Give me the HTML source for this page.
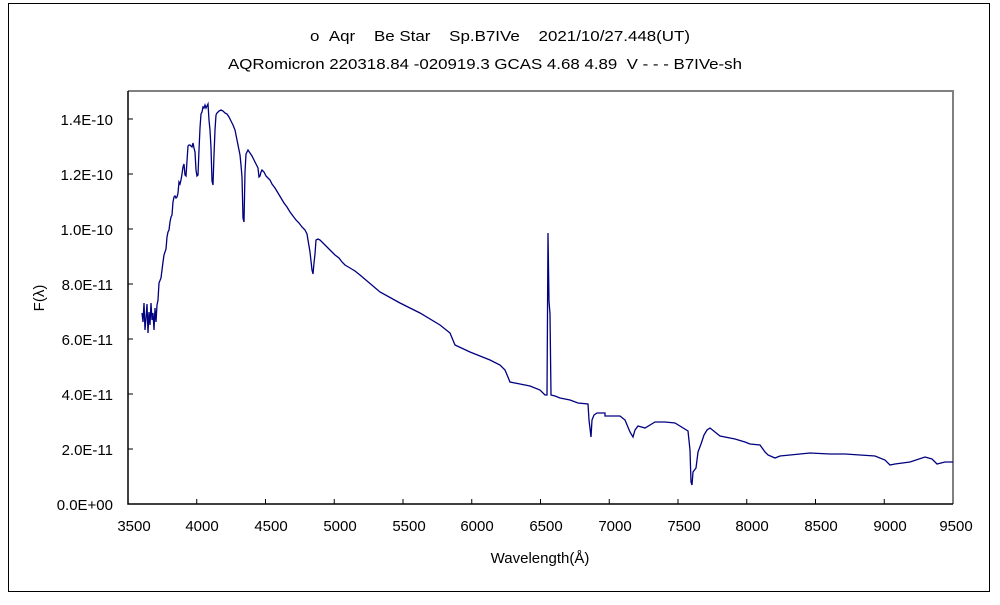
<!DOCTYPE html>
<html><head><meta charset="utf-8"><style>
body{margin:0;background:#fff;}
svg text{font-family:"Liberation Sans","Noto Sans CJK JP",sans-serif;font-size:15px;fill:#000;white-space:pre;}
</style></head><body>
<svg width="1000" height="600" viewBox="0 0 1000 600" xmlns="http://www.w3.org/2000/svg" xml:space="preserve">
<rect x="0" y="0" width="1000" height="600" fill="#fff"/>
<rect x="8.5" y="3.5" width="981" height="588" fill="none" stroke="#000" stroke-width="1"/>
<text x="310" y="41" textLength="380" lengthAdjust="spacingAndGlyphs">ο  Aqr    Be Star    Sp.B7IVe    2021/10/27.448(UT)</text>
<text x="228" y="69" textLength="514" lengthAdjust="spacingAndGlyphs">AQRomicron 220318.84 -020919.3 GCAS 4.68 4.89  V - - - B7IVe-sh</text>
<path d="M128,91 H953 V504" fill="none" stroke="#808080" stroke-width="2"/>
<path d="M128,91 V504 H953" fill="none" stroke="#000" stroke-width="1.5"/>
<g stroke="#000" stroke-width="1">
<line x1="128" y1="119" x2="133" y2="119"/><line x1="128" y1="174" x2="133" y2="174"/><line x1="128" y1="229" x2="133" y2="229"/><line x1="128" y1="284" x2="133" y2="284"/><line x1="128" y1="339" x2="133" y2="339"/><line x1="128" y1="394" x2="133" y2="394"/><line x1="128" y1="449" x2="133" y2="449"/>
<line x1="196.75" y1="504" x2="196.75" y2="499"/><line x1="265.5" y1="504" x2="265.5" y2="499"/><line x1="334.25" y1="504" x2="334.25" y2="499"/><line x1="403" y1="504" x2="403" y2="499"/><line x1="471.75" y1="504" x2="471.75" y2="499"/><line x1="540.5" y1="504" x2="540.5" y2="499"/><line x1="609.25" y1="504" x2="609.25" y2="499"/><line x1="678" y1="504" x2="678" y2="499"/><line x1="746.75" y1="504" x2="746.75" y2="499"/><line x1="815.5" y1="504" x2="815.5" y2="499"/><line x1="884.25" y1="504" x2="884.25" y2="499"/>
</g>
<g text-anchor="end">
<text x="113" y="125">1.4E-10</text><text x="113" y="180">1.2E-10</text><text x="113" y="235">1.0E-10</text><text x="113" y="290">8.0E-11</text><text x="113" y="345">6.0E-11</text><text x="113" y="400">4.0E-11</text><text x="113" y="455">2.0E-11</text><text x="113" y="510">0.0E+00</text>
</g>
<g text-anchor="middle">
<text x="134" y="531">3500</text><text x="202" y="531">4000</text><text x="271" y="531">4500</text><text x="340" y="531">5000</text><text x="409" y="531">5500</text><text x="477" y="531">6000</text><text x="546" y="531">6500</text><text x="615" y="531">7000</text><text x="684" y="531">7500</text><text x="752" y="531">8000</text><text x="821" y="531">8500</text><text x="890" y="531">9000</text><text x="956" y="531">9500</text>
<text x="540" y="563">Wavelength(Å)</text>
<text x="44" y="298" transform="rotate(-90 44 298)">F(λ)</text>
</g>
<polyline fill="none" stroke="#000080" stroke-width="1.3" points="142,313 143,322 144,303 145,330 146,318 147,304 148,333 149,312 150,325 151,303 152,320 153,313 154,330 155,308 156,322 157,305 158,300 159,283 161,278 162,270 163,262 164,255 166,249 167,237 168,232 169,230 170,222 171,217 172,215 173,202 174,197 175,196 176,198 177,197 178,193 179,182 180,184 181,180 182,174 183,167 184,164 185,175 186,176 187,161 188,146 189,145 190,145 192,147 193,143 194,148 195,152 196,170 197,176 198,175 199,150 200,128 201,114 202,112 203,107 204,108 205,105 206,108 207,106 208,104 209,120 210,130 211,148 212,181 213,185 214,155 215,130 216,115 217,113 219,111 221,110 223,111 225,113 227,114 229,117 231,121 233,125 235,130 236,135 237,140 238,145 239,150 240,155 241,165 242,177 243,218 244,222 245,172 246,154 247,152 248,150 250,153 252,156 254,160 256,164 258,168 259,177 260,176 261,172 262,170 264,172 266,176 268,178 270,180 272,184 275,188 278,193 281,198 284,203 287,207 290,212 293,216 296,220 299,223 302,227 305,230 307,234 308,240 310,252 312,270 313,274 314,263 315,254 316,240 318,239 320,240 322,242 325,245 328,248 331,251 335,255 339,258 342,262 345,265 350,268 355,271 360,275 380,292 400,303 420,313 440,325 450,333 455,345 470,352 490,360 500,365 505,370 510,382 520,384 530,386 540,390 545,395 547,395 548,233 549,301 550,314 551,395 555,396 560,398 570,400 578,403 588,404 589,420 591,437 592,420 594,415 597,413 605,413 605,416 620,416 625,420 630,432 633,437 635,430 638,426 645,428 655,422 665,422 675,423 688,431 690,450 691,482 692,485 693,472 696,468 698,452 701,444 704,435 707,430 710,428 720,436 735,439 745,442 750,444 760,445 765,452 768,455 775,458 780,456 790,455 810,453 830,454 845,454 860,455 875,456 885,460 890,465 895,464 910,462 925,457 932,459 937,464 945,462 953,462"/>
</svg>
</body></html>
